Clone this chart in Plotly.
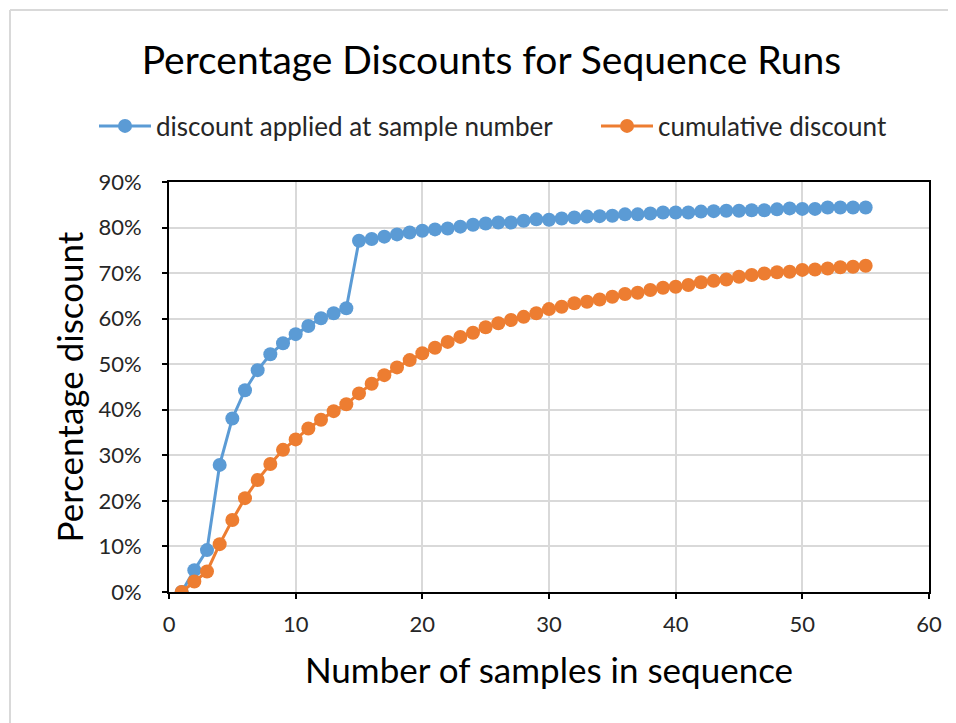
import plotly.graph_objects as go

samples = list(range(1, 56))
discount_applied = [0.0, 4.8, 9.2, 27.9, 38.1, 44.3, 48.7, 52.2, 54.6, 56.6,
                    58.4, 60.1, 61.2, 62.3, 77.1, 77.5, 78.0, 78.5, 78.9, 79.3,
                    79.6, 79.8, 80.2, 80.6, 80.9, 81.1, 81.1, 81.5, 81.8, 81.7,
                    82.0, 82.2, 82.4, 82.5, 82.6, 82.9, 82.9, 83.1, 83.3, 83.3,
                    83.3, 83.5, 83.6, 83.7, 83.7, 83.8, 83.8, 84.0, 84.2, 84.1,
                    84.1, 84.4, 84.4, 84.4, 84.4]
cumulative_discount = [0.0, 2.3, 4.5, 10.5, 15.8, 20.6, 24.6, 28.1, 31.2, 33.5,
                       35.9, 37.8, 39.7, 41.2, 43.6, 45.7, 47.6, 49.3, 50.9, 52.4,
                       53.6, 54.9, 56.0, 56.9, 58.1, 59.0, 59.7, 60.4, 61.2, 62.1,
                       62.6, 63.4, 63.7, 64.2, 64.8, 65.4, 65.7, 66.3, 66.8, 67.0,
                       67.4, 68.0, 68.3, 68.6, 69.2, 69.6, 69.9, 70.2, 70.3, 70.7,
                       70.8, 71.0, 71.3, 71.4, 71.6]
y_ticks = [0, 10, 20, 30, 40, 50, 60, 70, 80, 90]
y_tick_labels = [f"{v}%" for v in y_ticks]
x_ticks = [0, 10, 20, 30, 40, 50, 60]

FONT = "Lato"
W, H = 948, 715
L, R, T, B = 161, 27, 174, 131
PW, PH = W - L - R, H - T - B

fig = go.Figure()
fig.add_trace(go.Scatter(
    x=samples, y=discount_applied, mode="lines+markers",
    name="discount applied at sample number", legend="legend",
    line=dict(color="#5B9BD5", width=3),
    marker=dict(color="#5B9BD5", size=14),
))
fig.add_trace(go.Scatter(
    x=samples, y=cumulative_discount, mode="lines+markers",
    name="cumulative discount", legend="legend2",
    line=dict(color="#ED7D31", width=3),
    marker=dict(color="#ED7D31", size=14),
))

legend_common = dict(orientation="h", yanchor="middle", y=1 + 56 / PH, xanchor="left",
                     font=dict(size=26, color="#262626"), itemwidth=52,
                     bgcolor="rgba(0,0,0,0)")
fig.update_layout(
    width=W, height=H,
    paper_bgcolor="white", plot_bgcolor="white",
    margin=dict(l=L, r=R, t=T, b=B),
    font=dict(family=FONT, color="#262626"),
    title=dict(text="Percentage Discounts for Sequence Runs",
               x=0.51, xanchor="center", y=1 - 52 / H, yanchor="middle",
               font=dict(size=39, color="#000000", family=FONT)),
    legend=dict(x=(86 - L) / PW, **legend_common),
    legend2=dict(x=(588 - L) / PW, **legend_common),
    showlegend=True,
)
fig.update_xaxes(
    range=[0, 60], tickvals=x_ticks, ticks="outside", ticklen=5, tickwidth=1.5,
    tickcolor="black", showline=True, linecolor="black", linewidth=2, mirror=True,
    showgrid=True, gridcolor="#D9D9D9", gridwidth=2, zeroline=False,
    tickfont=dict(size=22, color="#262626"), ticklabelstandoff=7,
    title=dict(text="Number of samples in sequence", font=dict(size=35, color="#000000"),
               standoff=22),
)
fig.update_yaxes(
    range=[0, 90], tickvals=y_ticks, ticktext=y_tick_labels, ticks="outside",
    ticklen=5, tickwidth=1.5, tickcolor="black",
    showline=True, linecolor="black", linewidth=2, mirror=True,
    showgrid=True, gridcolor="#D9D9D9", gridwidth=2, zeroline=False,
    tickfont=dict(size=22, color="#262626"), ticklabelstandoff=16,
)
fig.add_annotation(text="Percentage discount", textangle=-90, showarrow=False,
                   xref="paper", yref="paper", x=(61 - L) / PW, y=0.499,
                   xanchor="center", yanchor="middle",
                   font=dict(size=35, color="#000000", family=FONT))
# light outer frame (left and top edges)
fig.add_shape(type="line", xref="paper", yref="paper",
              x0=(2 - L) / PW, x1=(2 - L) / PW, y0=-(H - T - PH) / PH, y1=1 + (T - 2) / PH,
              line=dict(color="#D9D9D9", width=2), layer="below")
fig.add_shape(type="line", xref="paper", yref="paper",
              x0=(2 - L) / PW, x1=(W - L) / PW, y0=1 + (T - 2) / PH, y1=1 + (T - 2) / PH,
              line=dict(color="#D9D9D9", width=2), layer="below")
fig.write_html("out.html")
